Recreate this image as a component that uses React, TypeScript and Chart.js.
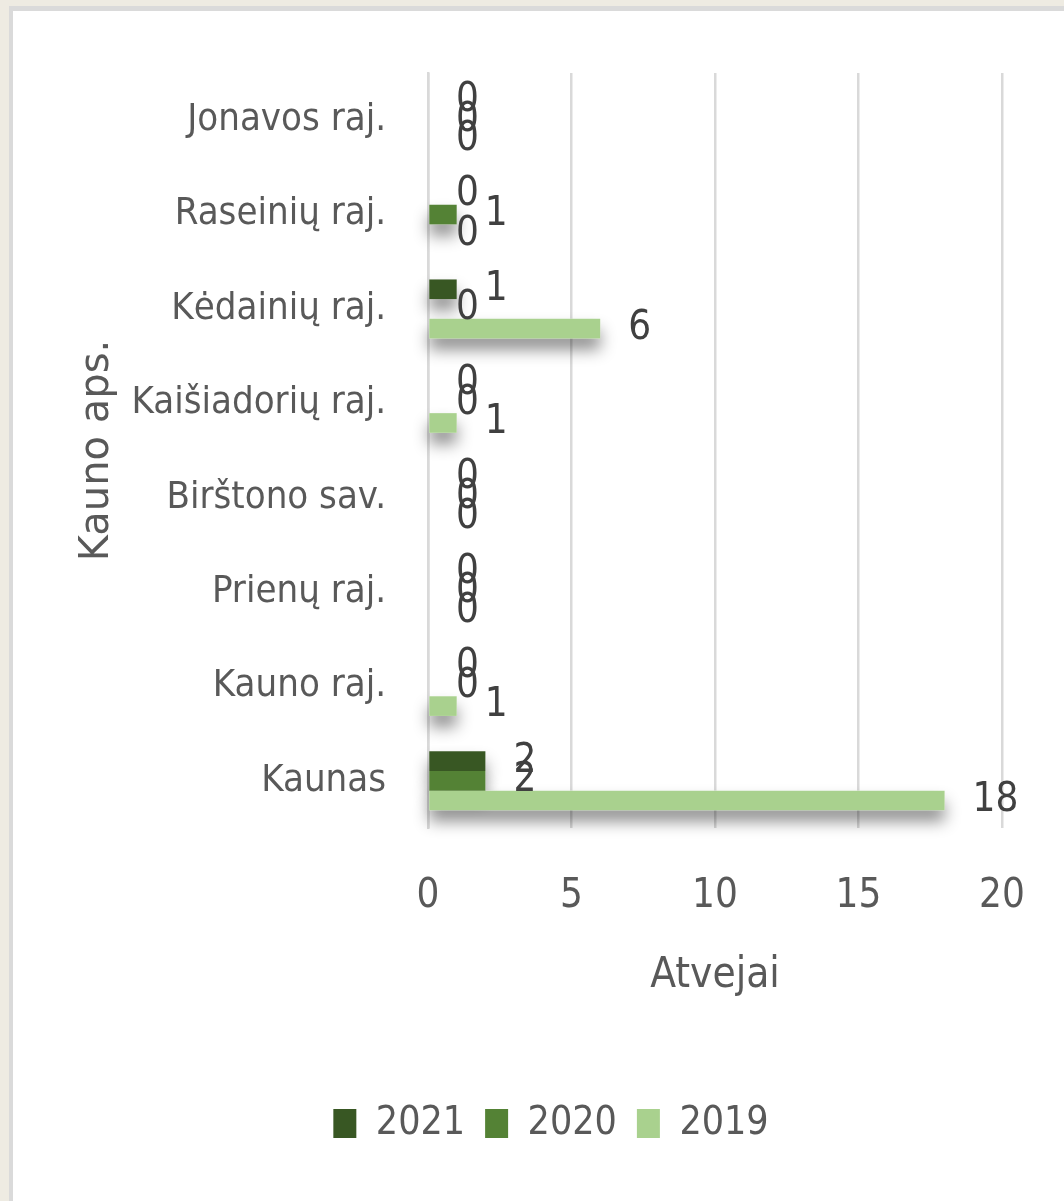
import React, { useEffect, useRef } from "react";
import { Chart, registerables } from "chart.js";

Chart.register(...registerables);

const categories = [
  "Jonavos raj.",
  "Raseinių raj.",
  "Kėdainių raj.",
  "Kaišiadorių raj.",
  "Birštono sav.",
  "Prienų raj.",
  "Kauno raj.",
  "Kaunas",
];
const values2021 = [0, 0, 1, 0, 0, 0, 0, 2];
const values2020 = [0, 1, 0, 0, 0, 0, 0, 2];
const values2019 = [0, 0, 6, 1, 0, 0, 1, 18];
const seriesLabels = ["2021", "2020", "2019"];
const seriesColors = ["#385723", "#548235", "#a9d18e"];
const xTicks = [0, 5, 10, 15, 20];
const xTitle = "Atvejai";
const yTitle = "Kauno aps.";

const NARROW = "'Liberation Sans Narrow', 'DejaVu Sans Condensed', 'Liberation Sans', sans-serif";
const TEXT = "#595959";

const shadowPlugin = {
  id: "barShadow",
  beforeDatasetsDraw(chart: any) {
    const ctx = chart.ctx;
    ctx.save();
    ctx.shadowColor = "rgba(0,0,0,0.45)";
    ctx.shadowBlur = 16;
    ctx.shadowOffsetX = 0;
    ctx.shadowOffsetY = 11;
    ctx.fillStyle = "#ffffff";
    chart.data.datasets.forEach((_ds: any, i: number) => {
      const meta = chart.getDatasetMeta(i);
      meta.data.forEach((el: any) => {
        const p = el.getProps(["x", "y", "base", "height"], true);
        const w = p.x - p.base;
        if (w > 0.5) ctx.fillRect(p.base, p.y - p.height / 2, w, p.height);
      });
    });
    ctx.restore();
  },
};

const labelPlugin = {
  id: "valueLabels",
  afterDatasetsDraw(chart: any) {
    const ctx = chart.ctx;
    ctx.save();
    ctx.font = `40px ${NARROW}`;
    ctx.fillStyle = "#404040";
    ctx.textAlign = "left";
    ctx.textBaseline = "middle";
    chart.data.datasets.forEach((ds: any, i: number) => {
      const meta = chart.getDatasetMeta(i);
      meta.data.forEach((el: any, j: number) => {
        const p = el.getProps(["x", "y"], true);
        ctx.fillText(String(ds.data[j]), p.x + 28, p.y);
      });
    });
    ctx.restore();
  },
};

export default function App() {
  const ref = useRef<HTMLCanvasElement>(null);
  useEffect(() => {
    if (!ref.current) return;
    const chart = new Chart(ref.current, {
      type: "bar",
      data: {
        labels: categories,
        datasets: [values2021, values2020, values2019].map((d, i) => ({
          label: seriesLabels[i],
          data: d,
          backgroundColor: seriesColors[i],
          borderWidth: 0,
          categoryPercentage: 0.625,
          barPercentage: 1.0,
        })),
      },
      options: {
        indexAxis: "y",
        responsive: false,
        animation: false,
        devicePixelRatio: 1,
        layout: { padding: { left: 100, right: 62, top: 73, bottom: 48 } },
        plugins: {
          tooltip: { enabled: false },
          legend: {
            position: "bottom",
            labels: {
              boxWidth: 23,
              boxHeight: 29,
              padding: 20,
              color: TEXT,
              font: { family: NARROW, size: 39 },
            },
          },
        },
        scales: {
          x: {
            type: "linear",
            min: 0,
            max: 20,
            afterBuildTicks(scale: any) {
              scale.ticks = xTicks.map((v) => ({ value: v }));
            },
            afterFit(scale: any) {
              scale.height = 256;
            },
            grid: {
              color: "#d9d9d9",
              lineWidth: 2.5,
              drawTicks: true,
              tickLength: 40,
              tickColor: "rgba(0,0,0,0)",
            },
            border: { display: false },
            ticks: {
              padding: 5,
              color: TEXT,
              font: { family: NARROW, size: 40 },
            },
            title: {
              display: true,
              text: xTitle,
              color: TEXT,
              font: { family: NARROW, size: 42 },
              padding: { top: 0, bottom: 83 },
            },
          },
          y: {
            afterFit(scale: any) {
              scale.width = 328;
            },
            grid: { display: false },
            border: { display: true, color: "#d9d9d9", width: 2.5 },
            ticks: {
              padding: 34,
              color: TEXT,
              font: { family: NARROW, size: 38 },
            },
            title: {
              display: true,
              text: yTitle,
              color: TEXT,
              font: { family: "'DejaVu Sans', sans-serif", size: 40 },
              padding: { top: -26, bottom: 0 },
            },
          },
        },
      } as any,
      plugins: [shadowPlugin, labelPlugin],
    });
    return () => chart.destroy();
  }, []);

  return (
    <div style={{ position: "fixed", left: 0, top: 0, width: 1064, height: 1201, background: "#eeebe2", overflow: "hidden" }}>
      <div
        style={{
          position: "absolute",
          left: 9,
          top: 6,
          right: 0,
          bottom: 0,
          background: "#ffffff",
          borderLeft: "4px solid #dadada",
          borderTop: "5px solid #dadada",
        }}
      />
      <canvas ref={ref} width={1064} height={1201} style={{ position: "absolute", left: 0, top: 0 }} />
    </div>
  );
}
